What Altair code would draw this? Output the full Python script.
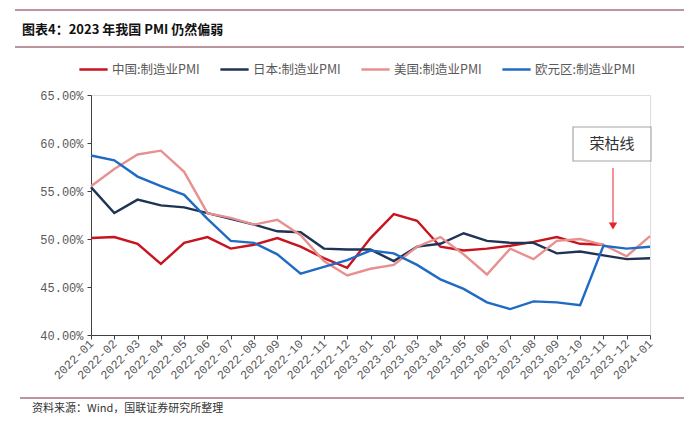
import altair as alt
import pandas as pd

months = ["2022-01","2022-02","2022-03","2022-04","2022-05","2022-06","2022-07","2022-08",
          "2022-09","2022-10","2022-11","2022-12","2023-01","2023-02","2023-03","2023-04",
          "2023-05","2023-06","2023-07","2023-08","2023-09","2023-10","2023-11","2023-12","2024-01"]
china = [50.1,50.2,49.5,47.4,49.6,50.2,49.0,49.4,50.1,49.2,48.0,47.0,50.1,52.6,51.9,49.2,
         48.8,49.0,49.3,49.7,50.2,49.5,49.4,None,None]
japan = [55.4,52.7,54.1,53.5,53.3,52.7,52.1,51.5,50.8,50.7,49.0,48.9,48.9,47.7,49.2,49.5,
         50.6,49.8,49.6,49.6,48.5,48.7,48.3,47.9,48.0]
us = [55.5,57.3,58.8,59.2,57.0,52.7,52.2,51.5,52.0,50.4,47.7,46.2,46.9,47.3,49.2,50.2,
      48.4,46.3,49.0,47.9,49.8,50.0,49.4,48.2,50.3]
euro = [58.7,58.2,56.5,55.5,54.6,52.1,49.8,49.6,48.4,46.4,47.1,47.8,48.8,48.5,47.3,45.8,
        44.8,43.4,42.7,43.5,43.4,43.1,49.3,49.0,49.2]

series_names = ["中国:制造业PMI", "日本:制造业PMI", "美国:制造业PMI", "欧元区:制造业PMI"]
series_vals = [china, japan, us, euro]
colors = ["#C8141E", "#1F3355", "#E89090", "#1F6BC4"]

rows = []
for i, (name, vals) in enumerate(zip(series_names, series_vals)):
    for m, v in zip(months, vals):
        if v is not None:
            rows.append({"month": m, "value": v, "series": name, "ord": i})
df = pd.DataFrame(rows)

W, H = 559, 240
L, T = 91, 95

lines = alt.Chart(df).mark_line(strokeWidth=2.4).encode(
    x=alt.X("month:O", sort=months, scale=alt.Scale(type="point", padding=0),
            axis=alt.Axis(title=None, labelAngle=315, labelAlign="right", labelBaseline="middle",
                          labelFont="Liberation Mono", labelFontSize=12, labelColor="#595959",
                          domainColor="#404040", tickColor="#404040", tickSize=4,
                          labelPadding=2, grid=False)),
    y=alt.Y("value:Q", scale=alt.Scale(domain=[40, 65], nice=False, zero=False),
            axis=alt.Axis(title=None, values=[40, 45, 50, 55, 60, 65],
                          labelExpr="format(datum.value, '.2f') + '%'",
                          labelFont="Liberation Mono", labelFontSize=12, labelColor="#595959",
                          domainColor="#404040", tickColor="#404040", tickSize=4, grid=False,
                          labelPadding=4)),
    color=alt.Color("series:N", sort=series_names,
                    scale=alt.Scale(domain=series_names, range=colors),
                    legend=alt.Legend(title=None, orient="none", direction="horizontal",
                                      legendX=-13, legendY=-41, symbolType="stroke",
                                      symbolSize=800, symbolStrokeWidth=2.5,
                                      labelFont="Noto Sans CJK SC", labelFontSize=12.5,
                                      labelColor="#595959", columnPadding=15, labelOffset=3,
                                      labelLimit=200)),
    order=alt.Order("ord:Q"),
)

blank = alt.Data(values=[{}])

title = alt.Chart(blank).mark_text(text="图表4：2023 年我国 PMI 仍然偏弱", align="left",
                                   baseline="middle", font="Noto Sans CJK SC", fontSize=13,
                                   fontWeight="bold", color="#111111").encode(
    x=alt.value(22 - L), y=alt.value(30 - T))

rule_style = dict(color="#7A2A3A", strokeWidth=1)
top1 = alt.Chart(blank).mark_rule(**rule_style).encode(
    x=alt.value(15 - L), x2=alt.value(684 - L), y=alt.value(10 - T))
top2 = alt.Chart(blank).mark_rule(**rule_style).encode(
    x=alt.value(15 - L), x2=alt.value(684 - L), y=alt.value(47 - T))
bot = alt.Chart(blank).mark_rule(**rule_style).encode(
    x=alt.value(20 - L), x2=alt.value(684 - L), y=alt.value(398 - T))

source = alt.Chart(blank).mark_text(text="资料来源：Wind，国联证券研究所整理", align="left",
                                    baseline="middle", font="Noto Sans CJK SC", fontSize=11,
                                    color="#333333").encode(
    x=alt.value(32 - L), y=alt.value(409 - T))

box = alt.Chart(blank).mark_rect(fill="white", stroke="#A6A6A6", strokeWidth=1.2).encode(
    x=alt.value(573 - L), x2=alt.value(651 - L), y=alt.value(127 - T), y2=alt.value(161 - T))
box_text = alt.Chart(blank).mark_text(text="荣枯线", align="center", baseline="middle",
                                      font="Noto Sans CJK SC", fontSize=15,
                                      color="#333333").encode(
    x=alt.value(612 - L), y=alt.value(144 - T))
arrow = alt.Chart(blank).mark_rule(color="#E8242A", strokeWidth=1).encode(
    x=alt.value(613 - L), y=alt.value(168 - T), y2=alt.value(224 - T))
head = alt.Chart(blank).mark_point(shape="triangle-down", filled=True, color="#E8242A",
                                   size=70, opacity=1).encode(
    x=alt.value(613 - L), y=alt.value(226 - T))

chart = alt.layer(lines, box, box_text, arrow, head, title, top1, top2, bot, source).properties(
    width=W, height=H,
    autosize=alt.AutoSizeParams(type="none"),
    padding={"left": L, "top": T, "right": 689 - L - W, "bottom": 427 - T - H},
).configure_view(stroke=None).configure(background="white")

chart.save("out.html", embed_options={"renderer": "svg", "actions": False})
